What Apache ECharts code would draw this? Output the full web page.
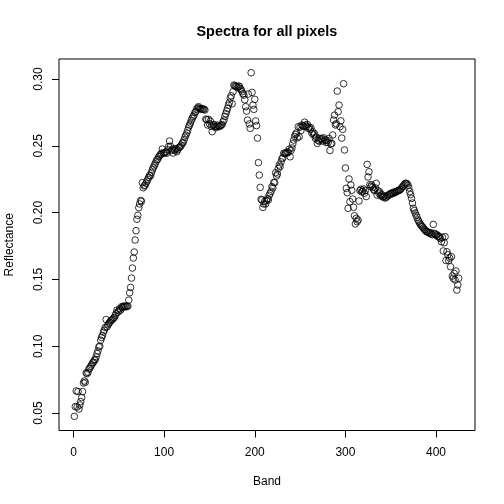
<!DOCTYPE html>
<html>
<head>
<meta charset="utf-8">
<style>html,body{margin:0;padding:0;background:#fff}#c{width:504px;height:504px}</style>
<script src="https://cdn.jsdelivr.net/npm/echarts@6/dist/echarts.min.js"></script>
</head>
<body>
<div id="c"></div>
<script>
const titleText = "Spectra for all pixels";
const xName = "Band";
const yName = "Reflectance";
const xTicks = [0, 100, 200, 300, 400];
const yTicks = [0.05, 0.10, 0.15, 0.20, 0.25, 0.30];
const reflectance = [
.0475,.0548,.0665,.0545,.066,.053,.056,.0585,.0615,.066,
.0725,.074,.073,.080,.0795,.0805,.083,.0835,.085,.086,
.0875,.088,.0895,.090,.092,.0945,.0965,.0995,.1,.1045,
.1065,.108,.1105,.112,.114,.120,.1145,.116,.117,.118,
.119,.1195,.120,.121,.1215,.123,.1245,.127,.1255,.1265,
.128,.127,.1295,.129,.130,.1295,.130,.1295,.130,.130,
.1345,.140,.144,.151,.1585,.166,.1705,.1795,.1865,.195,
.198,.2037,.2065,.209,.2085,.2224,.2186,.220,.2205,.222,
.2235,.225,.2265,.228,.2275,.230,.232,.2335,.235,.2365,
.238,.2395,.240,.2418,.2425,.2435,.2445,.2476,.2445,.2445,
.245,.2455,.2445,.247,.2495,.2536,.2497,.2465,.2475,.2446,
.2475,.2465,.2478,.2456,.247,.2485,.249,.2495,.2505,.252,
.2525,.2545,.2565,.258,.2595,.2615,.264,.2655,.267,.269,
.2705,.272,.273,.275,.2755,.2775,.2785,.2793,.278,.2775,
.278,.2775,.2772,.2775,.2768,.270,.2695,.2656,.2698,.2665,
.2685,.2645,.2606,.2655,.266,.2645,.2635,.2645,.2655,.2645,
.2645,.265,.2655,.266,.268,.2693,.272,.274,.276,.278,
.2805,.2825,.2858,.2875,.2815,.2905,.2955,.295,.2945,.2945,
.2935,.2947,.2945,.293,.2918,.2905,.289,.288,.2845,.2793,
.276,.2693,.2888,.2664,.2631,.3047,.29,.2805,.2773,.2848,
.2686,.2651,.2558,.2374,.2281,.2189,.2099,.2095,.2039,.2065,
.2085,.2065,.209,.2105,.2095,.213,.2145,.216,.2195,.2185,
.2225,.2225,.2299,.2275,.2289,.233,.2356,.2345,.238,.2405,
.2409,.2445,.244,.2446,.2445,.2455,.245,.2475,.2418,.2465,
.2484,.2515,.2543,.257,.2585,.2596,.256,.2643,.2568,.264,
.2615,.2655,.265,.2645,.2677,.2655,.2645,.266,.2631,.264,
.2625,.2635,.2595,.2605,.2581,.259,.2555,.2565,.2518,.254,
.2535,.2556,.2545,.2555,.2535,.256,.2543,.2545,.2525,.254,
.2525,.2555,.2465,.2515,.2518,.2581,.2693,.273,.2656,.2665,
.291,.2755,.2805,.2643,.2687,.2558,.2623,.2965,.2469,.2334,
.2182,.2149,.2032,.2252,.2082,.2207,.2167,.2102,.204,.1977,
.1915,.1957,.1932,.1945,.2087,.2165,.2175,.2155,.216,.2177,
.2145,.2165,.212,.2361,.2267,.2306,.221,.2195,.2207,.219,
.2175,.2165,.2185,.222,.2132,.2165,.2145,.2155,.2125,.2135,
.212,.2115,.2125,.2109,.2115,.2125,.2125,.2135,.2135,.2144,
.214,.215,.2145,.2155,.215,.2157,.216,.2165,.2165,.217,
.2175,.2185,.2194,.22,.221,.2219,.222,.2215,.2205,.2185,
.2157,.2135,.2107,.2072,.2032,.2015,.1997,.198,.1965,.1945,
.1935,.192,.191,.19,.1895,.1885,.1875,.187,.186,.1857,
.1855,.185,.1845,.185,.184,.1835,.1912,.1845,.184,.183,
.1835,.182,.1825,.1815,.1805,.1782,.1815,.1713,.1775,.182,
.1641,.1707,.1685,.1641,.166,.1595,.167,.1525,.1508,.1545,
.1496,.1563,.142,.1458,.1508
];
const points = reflectance.map((v, i) => [i + 1, v]);
const font = "'Liberation Sans', Helvetica, Arial, sans-serif";
const chart = echarts.init(document.getElementById('c'), null, {renderer: 'canvas'});
chart.setOption({
  animation: false,
  backgroundColor: '#fff',
  title: {
    text: titleText, left: 191.5, top: 20,
    textStyle: {fontFamily: font, fontSize: 14.4, fontWeight: 'bold', color: '#000'}
  },
  grid: {left: 59, right: 29, top: 59, bottom: 73.5, show: true, borderColor: '#000', borderWidth: 1, backgroundColor: 'transparent', containLabel: false, outerBoundsMode: 'none'},
  xAxis: {
    type: 'value', min: -16, max: 443, name: xName, nameLocation: 'middle', nameGap: 45,
    nameTextStyle: {fontFamily: font, fontSize: 12, color: '#000'},
    splitLine: {show: false}, axisLine: {show: false, onZero: false},
    containShape: false,
    axisTick: {show: true, length: 7, inside: false, customValues: xTicks, lineStyle: {color: '#000', width: 1}},
    axisLabel: {show: true, customValues: xTicks, margin: 16, fontFamily: font, fontSize: 12, color: '#000', hideOverlap: false, showMinLabel: true, showMaxLabel: true}
  },
  yAxis: {
    type: 'value', min: 0.0369, max: 0.315, name: yName, nameLocation: 'middle', nameGap: 43,
    nameTextStyle: {fontFamily: font, fontSize: 12, color: '#000'},
    splitLine: {show: false}, axisLine: {show: false, onZero: false},
    containShape: false,
    axisTick: {show: true, length: 7, inside: false, customValues: yTicks, lineStyle: {color: '#000', width: 1}},
    axisLabel: {show: true, customValues: yTicks, rotate: 90, margin: 20, fontFamily: font, fontSize: 12, color: '#000',
      formatter: v => v.toFixed(2), verticalAlign: 'middle', align: 'center'}
  },
  series: [{
    type: 'scatter', data: points, symbol: 'circle', symbolSize: 6.6,
    itemStyle: {color: 'transparent', borderColor: '#000', borderWidth: 0.8, opacity: 1},
    silent: true, clip: false
  }]
});
</script>
</body>
</html>
